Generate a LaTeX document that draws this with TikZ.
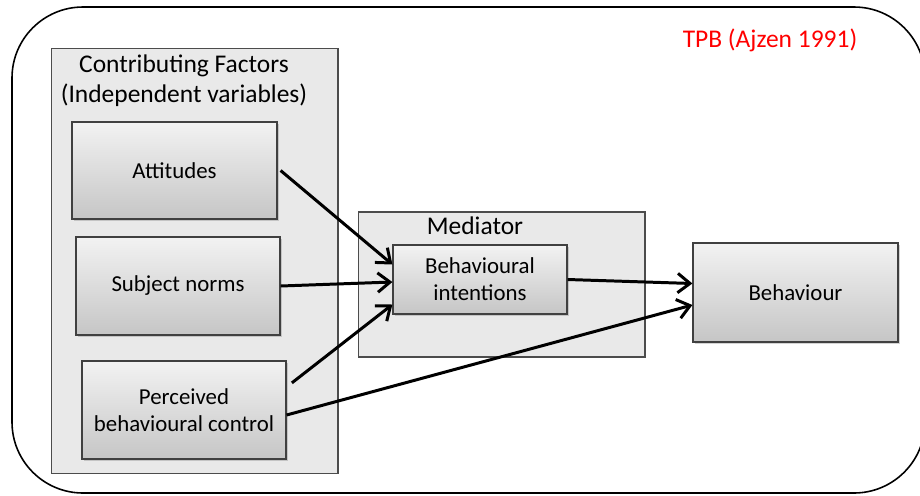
\documentclass[tikz,border=0pt]{standalone}
\usepackage{fontspec}
\setmainfont{Carlito}
\usetikzlibrary{arrows.meta, positioning, shadows}

\tikzset{
  frame/.style={draw=black!70, fill=gray!17, line width=0.6pt},
  factor/.style={draw=black!75, line width=0.7pt, top color=gray!10, bottom color=gray!45,
    align=center, font=\fontsize{13}{15.5}\selectfont,
    drop shadow={opacity=0.35, shadow xshift=1pt, shadow yshift=-1pt}},
  title/.style={font=\fontsize{14.5}{17}\selectfont, align=center},
  link/.style={-{Straight Barb[length=7pt,width=11pt]}, line width=1.7pt}
}

\begin{document}
\begin{tikzpicture}[x=0.02cm, y=-0.02cm]

% page size (920 x 495)
\useasboundingbox (0,0) rectangle (920,495);

% outer rounded frame (right side runs off the page)
\begin{scope}
  \clip (0,0) rectangle (920,495);
  \draw[line width=0.9pt, rounded corners=1.42cm] (12,7) rectangle (925,493);
\end{scope}
\node[red, title] (tpb) at (770,40) {TPB (Ajzen 1991)};

% --- independent variables ---
\node[frame, minimum width=5.74cm, minimum height=8.52cm] (cf) at (194.5,261) {};
\node[title] (cftitle) at (184,81) {Contributing Factors\\(Independent variables)};

\node[factor, minimum width=4.1cm, minimum height=1.94cm] (att) at (174.5,170.5) {Attitudes};
\node[factor, minimum width=4.08cm, minimum height=1.96cm] (sn) at (178,286) {Subject norms};
\node[factor, minimum width=4.08cm, minimum height=1.96cm] (pbc) at (184,410) {Perceived\\behavioural control};

% --- mediator ---
\node[frame, minimum width=5.74cm, minimum height=2.9cm] (med) at (501.5,284.5) {};
\node[title] (medtitle) at (475,226) {Mediator};
\node[factor, minimum width=3.48cm, minimum height=1.38cm] (bi) at (480,279.5) {Behavioural\\intentions};

% --- outcome ---
\node[factor, minimum width=4.1cm, minimum height=1.98cm] (beh) at (795.5,292.5) {Behaviour};

% arrows
\draw[link] (att.east) ++(3,0) -- ([yshift=0.3cm]bi.west);
\draw[link] (sn.east) -- ([yshift=-0.05cm]bi.west);
\draw[link] ([xshift=3pt, yshift=-0.45cm]pbc.north east) -- ([yshift=-0.5cm]bi.west);
\draw[link] (bi.east) -- ([yshift=0.18cm]beh.west);
\draw[link] ([yshift=-0.1cm]pbc.east) -- ([yshift=-0.25cm]beh.west);

\end{tikzpicture}
\end{document}
